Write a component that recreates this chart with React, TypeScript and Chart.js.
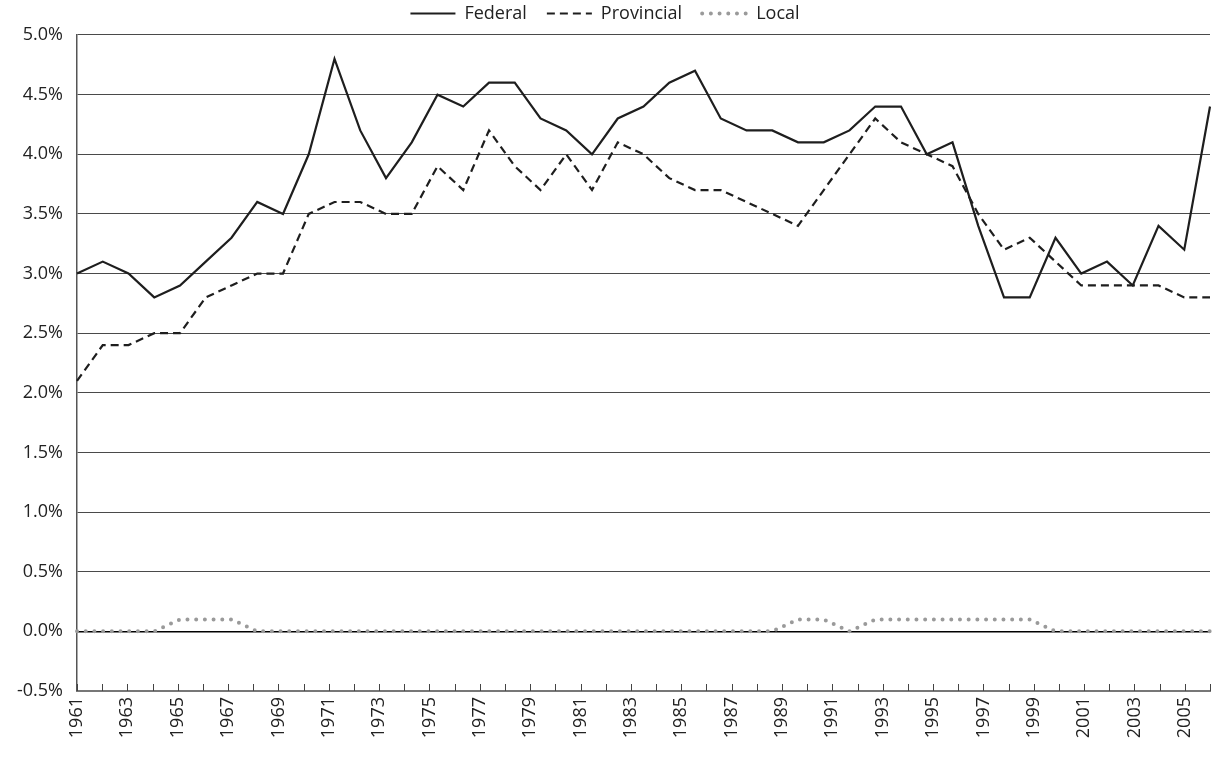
import { useEffect, useRef } from 'react';
import { Chart, registerables } from 'chart.js';

Chart.register(...registerables);

// Data years (45 observations)
const years = [
  1961, 1962, 1963, 1964, 1965, 1966, 1967, 1968, 1969, 1970,
  1971, 1972, 1973, 1974, 1975, 1976, 1977, 1978, 1979, 1980,
  1981, 1982, 1983, 1984, 1985, 1986, 1987, 1988, 1989, 1990,
  1991, 1992, 1993, 1994, 1995, 1996, 1997, 1998, 1999, 2000,
  2001, 2002, 2003, 2004, 2005,
];

// Axis tick years (as printed on the original axis)
const axisYears = [...years, 2006];

const federal = [
  3.0, 3.1, 3.0, 2.8, 2.9, 3.1, 3.3, 3.6, 3.5, 4.0,
  4.8, 4.2, 3.8, 4.1, 4.5, 4.4, 4.6, 4.6, 4.3, 4.2,
  4.0, 4.3, 4.4, 4.6, 4.7, 4.3, 4.2, 4.2, 4.1, 4.1,
  4.2, 4.4, 4.4, 4.0, 4.1, 3.4, 2.8, 2.8, 3.3, 3.0,
  3.1, 2.9, 3.4, 3.2, 4.4,
];

const provincial = [
  2.1, 2.4, 2.4, 2.5, 2.5, 2.8, 2.9, 3.0, 3.0, 3.5,
  3.6, 3.6, 3.5, 3.5, 3.9, 3.7, 4.2, 3.9, 3.7, 4.0,
  3.7, 4.1, 4.0, 3.8, 3.7, 3.7, 3.6, 3.5, 3.4, 3.7,
  4.0, 4.3, 4.1, 4.0, 3.9, 3.5, 3.2, 3.3, 3.1, 2.9,
  2.9, 2.9, 2.9, 2.8, 2.8,
];

const local = [
  0.0, 0.0, 0.0, 0.0, 0.1, 0.1, 0.1, 0.0, 0.0, 0.0,
  0.0, 0.0, 0.0, 0.0, 0.0, 0.0, 0.0, 0.0, 0.0, 0.0,
  0.0, 0.0, 0.0, 0.0, 0.0, 0.0, 0.0, 0.0, 0.1, 0.1,
  0.0, 0.1, 0.1, 0.1, 0.1, 0.1, 0.1, 0.1, 0.0, 0.0,
  0.0, 0.0, 0.0, 0.0, 0.0,
];

const seriesNames = ['Federal', 'Provincial', 'Local'];

const FONT_FAMILY = '"Open Sans", sans-serif';
const TEXT = '#222';

const innerTicks = {
  id: 'innerTicks',
  beforeDatasetsDraw(chart: any) {
    const s = chart.scales.xt;
    const { ctx, chartArea } = chart;
    if (!s) return;
    ctx.save();
    ctx.strokeStyle = '#444';
    ctx.lineWidth = 1;
    for (let i = 0; i < s.ticks.length; i++) {
      const x = Math.round(s.getPixelForTick(i)) + 0.5;
      ctx.beginPath();
      ctx.moveTo(x, chartArea.bottom);
      ctx.lineTo(x, chartArea.bottom - 7);
      ctx.stroke();
    }
    ctx.restore();
  },
};

export default function App() {
  const ref = useRef<HTMLCanvasElement>(null);

  useEffect(() => {
    if (!ref.current) return;
    const chart = new Chart(ref.current, {
      type: 'line',
      data: {
        labels: years.map(String),
        datasets: [
          {
            label: seriesNames[0],
            data: federal,
            borderColor: '#1e1e1e',
            backgroundColor: '#1e1e1e',
            borderWidth: 2.2,
            pointRadius: 0,
            tension: 0,
            xAxisID: 'x',
            yAxisID: 'y',
          },
          {
            label: seriesNames[1],
            data: provincial,
            borderColor: '#1e1e1e',
            backgroundColor: '#1e1e1e',
            borderWidth: 2.2,
            borderDash: [8, 5],
            pointRadius: 0,
            tension: 0,
            xAxisID: 'x',
            yAxisID: 'y',
          },
          {
            label: seriesNames[2],
            data: local,
            borderColor: '#9a9a9a',
            backgroundColor: '#9a9a9a',
            borderWidth: 4,
            borderDash: [0, 8.7],
            borderCapStyle: 'round',
            pointRadius: 0,
            tension: 0,
            xAxisID: 'x',
            yAxisID: 'y',
          },
        ],
      },
      options: {
        animation: false,
        responsive: true,
        maintainAspectRatio: false,
        layout: { padding: { left: 0, right: 3, top: -15.5, bottom: 0 } },
        plugins: {
          legend: {
            position: 'top',
            weight: 3000,
            labels: {
              usePointStyle: true,
              pointStyle: 'line',
              pointStyleWidth: 45,
              padding: 20,
              color: TEXT,
              font: { family: FONT_FAMILY, size: 18 },
              generateLabels: (ch: any) => {
                const items = Chart.defaults.plugins.legend.labels.generateLabels(ch);
                return items.map((it: any) => {
                  const ds: any = ch.data.datasets[it.datasetIndex];
                  return {
                    ...it,
                    pointStyle: 'line',
                    strokeStyle: ds.borderColor,
                    fillStyle: ds.borderColor,
                    lineWidth: ds.borderWidth,
                    lineDash: ds.borderDash || [],
                    lineCap: ds.borderCapStyle || 'butt',
                  };
                });
              },
            },
          },
          subtitle: {
            display: true,
            text: '',
            font: { size: 1, lineHeight: 1 },
            padding: { top: 1.5, bottom: 0 },
          },
          tooltip: { enabled: false },
        },
        scales: {
          x: {
            type: 'category',
            display: false,
            offset: false,
          },
          xt: {
            type: 'category',
            position: 'bottom',
            labels: axisYears.map(String),
            offset: false,
            grid: { display: false, drawTicks: false },
            border: { display: true, color: '#777', width: 2 },
            ticks: {
              autoSkip: false,
              maxRotation: 90,
              minRotation: 90,
              padding: 6,
              color: TEXT,
              font: { family: FONT_FAMILY, size: 18 },
              callback: function (this: any, value: any) {
                const label = this.getLabelForValue(value);
                return Number(label) % 2 === 1 ? label : '';
              },
            },
            afterFit: (s: any) => {
              s.height = 66;
              s.paddingRight = 0;
              s.paddingLeft = 0;
            },
          },
          y: {
            min: -0.5,
            max: 5,
            ticks: {
              stepSize: 0.5,
              padding: 14,
              color: TEXT,
              font: { family: FONT_FAMILY, size: 18 },
              callback: (v: any) => Number(v).toFixed(1) + '%',
            },
            grid: {
              drawTicks: false,
              color: (c: any) => {
                const v = c.tick ? c.tick.value : 1;
                if (Math.abs(v) < 1e-9) return '#000';
                if (Math.abs(v + 0.5) < 1e-9) return '#777';
                return '#4a4a4a';
              },
              lineWidth: (c: any) => {
                const v = c.tick ? c.tick.value : 1;
                return Math.abs(v) < 1e-9 ? 1.6 : 1.1;
              },
            },
            border: { color: '#555', width: 1.5 },
            afterFit: (s: any) => {
              s.width = 77;
            },
          },
        },
      },
      plugins: [innerTicks],
    } as any);
    return () => chart.destroy();
  }, []);

  return (
    <div
      style={{
        position: 'absolute',
        left: 0,
        top: 0,
        width: 1213,
        height: 757,
        background: '#fff',
      }}
    >
      <canvas ref={ref} />
    </div>
  );
}
